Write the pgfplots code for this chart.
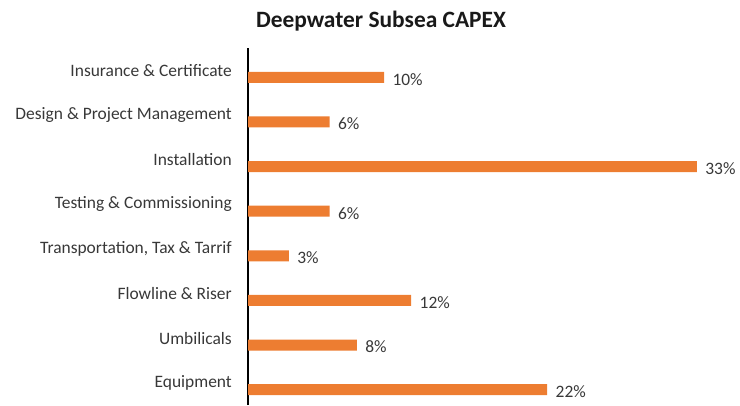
\documentclass[border=0pt]{standalone}
\usepackage{pgfplots}
\pgfplotsset{compat=1.18}
\usepackage{fontspec}
\setmainfont{Carlito}
\definecolor{barorange}{HTML}{ED7D31}
\definecolor{txt}{HTML}{383838}
\begin{document}
\begin{tikzpicture}[x=1bp,y=1bp]
\path[use as bounding box] (0,0) rectangle (740,405);
\node[font=\fontsize{23.5}{26}\selectfont\bfseries, text=black!90, anchor=base] at (381,378) {Deepwater Subsea CAPEX};
\begin{axis}[
  at={(248bp,0bp)}, anchor=south west,
  scale only axis, width=476bp, height=357bp,
  xbar, xmin=0, xmax=35, ymin=-0.5, ymax=7.5,
  bar width=11bp, bar shift=-7bp,
  axis lines*=left,
  x axis line style={draw=none},
  y axis line style={draw=black, line width=1.3bp},
  xtick=\empty,
  ytick={0,...,7},
  yticklabels={Equipment,Umbilicals,{Flowline \& Riser},{Transportation, Tax \& Tarrif},{Testing \& Commissioning},Installation,{Design \& Project Management},{Insurance \& Certificate}},
  major tick length=0pt,
  yticklabel style={font=\fontsize{17.5}{20}\selectfont, text=txt, inner sep=0pt, xshift=-16bp},
  /pgf/number format/assume math mode=true,
  nodes near coords={\pgfmathprintnumber{\pgfplotspointmeta}\%},
  every node near coord/.append style={font=\fontsize{17.5}{20}\selectfont, text=txt, anchor=west, xshift=5bp, yshift=-2bp},
  clip=false,
]
\addplot[fill=barorange, draw=none] coordinates {
(22,0) (8,1) (12,2) (3,3) (6,4) (33,5) (6,6) (10,7)
};
\end{axis}
\end{tikzpicture}
\end{document}
